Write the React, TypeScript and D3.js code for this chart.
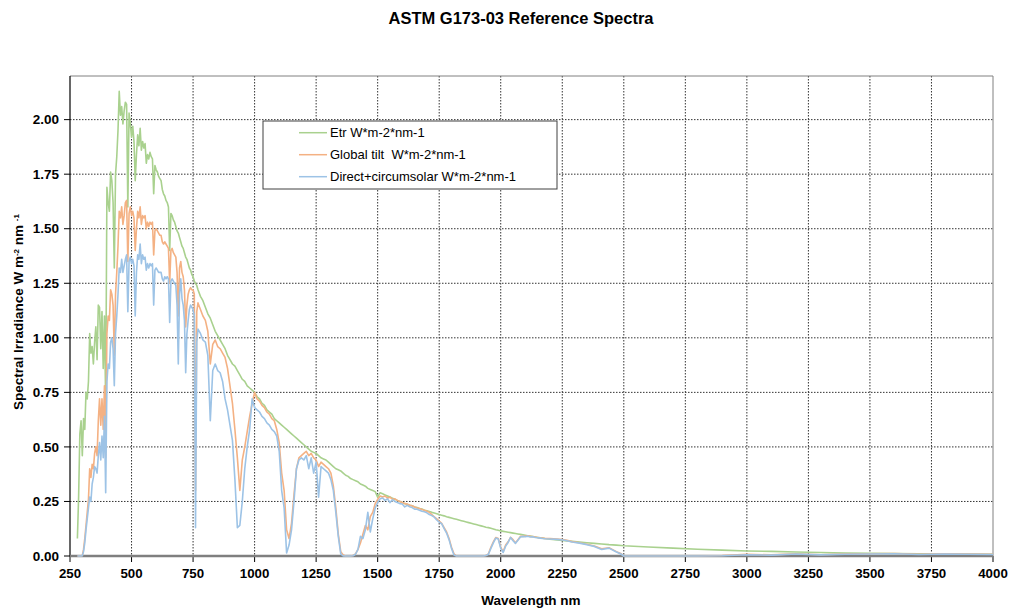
import React from "react";
import * as d3 from "d3";

// Wavelength grid (nm)
const wavelengths = [
  280, 285, 290, 295, 300, 305, 310, 315, 320, 325,
  330, 335, 340, 345, 350, 355, 360, 365, 370, 375,
  380, 385, 390, 395, 400, 405, 410, 415, 420, 425,
  430, 435, 440, 445, 450, 455, 460, 465, 470, 475,
  480, 485, 490, 495, 500, 505, 510, 515, 520, 525,
  530, 535, 540, 545, 550, 555, 560, 565, 570, 575,
  580, 585, 590, 595, 600, 605, 610, 615, 620, 625,
  630, 635, 640, 645, 650, 655, 660, 665, 670, 675,
  680, 685, 690, 695, 700, 705, 710, 715, 720, 725,
  730, 735, 740, 745, 750, 755, 760, 765, 770, 780,
  790, 800, 810, 820, 830, 840, 850, 860, 870, 880,
  890, 900, 910, 920, 930, 940, 950, 960, 970, 980,
  990, 1000, 1010, 1020, 1030, 1040, 1050, 1060, 1070, 1080,
  1090, 1100, 1110, 1120, 1130, 1140, 1150, 1160, 1170, 1180,
  1190, 1200, 1210, 1220, 1230, 1240, 1250, 1260, 1270, 1280,
  1290, 1300, 1310, 1320, 1330, 1340, 1350, 1360, 1370, 1380,
  1390, 1400, 1410, 1420, 1430, 1440, 1450, 1460, 1470, 1480,
  1490, 1500, 1510, 1520, 1530, 1540, 1550, 1560, 1570, 1580,
  1590, 1600, 1610, 1620, 1630, 1640, 1650, 1660, 1670, 1680,
  1690, 1700, 1710, 1720, 1730, 1740, 1750, 1760, 1770, 1780,
  1790, 1800, 1810, 1820, 1830, 1840, 1850, 1860, 1870, 1880,
  1890, 1900, 1910, 1920, 1930, 1940, 1950, 1960, 1970, 1980,
  1990, 2000, 2010, 2020, 2030, 2040, 2050, 2060, 2070, 2080,
  2090, 2100, 2110, 2120, 2130, 2140, 2150, 2160, 2170, 2180,
  2200, 2230, 2260, 2290, 2320, 2350, 2380, 2410, 2440, 2470,
  2490, 2500, 2600, 2700, 2800, 2900, 3000, 3100, 3200, 3300,
  3400, 3500, 3600, 3700, 3800, 3900, 4000,
];

// Extraterrestrial spectrum
const etr = [
  0.08, 0.27, 0.56, 0.62, 0.46, 0.63, 0.58, 0.75, 0.72, 0.80,
  1.02, 0.93, 0.96, 0.88, 0.98, 1.05, 0.90, 1.15, 1.14, 0.95,
  1.12, 0.86, 1.10, 0.70, 1.69, 1.62, 1.58, 1.76, 1.72, 1.62,
  1.32, 1.75, 1.83, 1.95, 2.13, 2.02, 2.06, 1.98, 2.04, 2.08,
  2.07, 1.60, 2.03, 1.98, 1.92, 1.97, 1.90, 1.72, 1.84, 1.93,
  1.88, 1.96, 1.86, 1.90, 1.87, 1.89, 1.80, 1.84, 1.82, 1.85,
  1.83, 1.82, 1.66, 1.79, 1.77, 1.76, 1.74, 1.73, 1.72, 1.68,
  1.66, 1.65, 1.63, 1.62, 1.60, 1.40, 1.57, 1.56, 1.54, 1.53,
  1.51, 1.49, 1.48, 1.46, 1.44, 1.42, 1.41, 1.39, 1.37, 1.36,
  1.34, 1.32, 1.31, 1.29, 1.28, 1.26, 1.25, 1.24, 1.22, 1.19,
  1.17, 1.14, 1.11, 1.09, 1.06, 1.03, 1.01, 0.99, 0.97, 0.95,
  0.92, 0.90, 0.88, 0.87, 0.85, 0.83, 0.81, 0.80, 0.78, 0.77,
  0.76, 0.75, 0.73, 0.72, 0.70, 0.69, 0.67, 0.66, 0.65, 0.63,
  0.62, 0.61, 0.60, 0.59, 0.58, 0.57, 0.56, 0.55, 0.54, 0.53,
  0.52, 0.51, 0.50, 0.49, 0.48, 0.475, 0.47, 0.46, 0.45, 0.445,
  0.44, 0.43, 0.42, 0.41, 0.40, 0.395, 0.39, 0.38, 0.37, 0.365,
  0.355, 0.35, 0.345, 0.34, 0.33, 0.325, 0.32, 0.31, 0.305, 0.30,
  0.295, 0.27, 0.29, 0.285, 0.28, 0.275, 0.27, 0.265, 0.26, 0.255,
  0.25, 0.245, 0.24, 0.237, 0.233, 0.23, 0.225, 0.222, 0.218, 0.215,
  0.21, 0.207, 0.204, 0.20, 0.197, 0.194, 0.19, 0.187, 0.184, 0.18,
  0.177, 0.174, 0.171, 0.168, 0.165, 0.162, 0.159, 0.156, 0.153, 0.15,
  0.147, 0.144, 0.141, 0.138, 0.135, 0.132, 0.13, 0.127, 0.124, 0.12,
  0.118, 0.115, 0.113, 0.111, 0.109, 0.107, 0.105, 0.103, 0.101, 0.099,
  0.097, 0.095, 0.093, 0.091, 0.089, 0.087, 0.085, 0.083, 0.082, 0.08,
  0.077, 0.073, 0.07, 0.067, 0.064, 0.061, 0.058, 0.055, 0.052, 0.05,
  0.048, 0.047, 0.041, 0.036, 0.031, 0.027, 0.023, 0.021, 0.018, 0.016,
  0.014, 0.012, 0.011, 0.01, 0.009, 0.0085, 0.008,
];

// Global tilt spectrum
const globalTilt = [
  0, 0, 0, 0, 0.002, 0.03, 0.08, 0.14, 0.2, 0.26,
  0.40, 0.36, 0.42, 0.40, 0.47, 0.50, 0.46, 0.62, 0.72, 0.60,
  0.72, 0.58, 0.78, 0.45, 1.02, 1.10, 1.08, 1.22, 1.20, 1.15,
  0.92, 1.20, 1.30, 1.42, 1.58, 1.55, 1.60, 1.52, 1.56, 1.62,
  1.63, 1.35, 1.57, 1.60, 1.56, 1.58, 1.55, 1.40, 1.50, 1.58,
  1.55, 1.60, 1.52, 1.56, 1.55, 1.56, 1.50, 1.53, 1.51, 1.53,
  1.52, 1.53, 1.38, 1.49, 1.50, 1.49, 1.48, 1.47, 1.47, 1.44,
  1.43, 1.44, 1.43, 1.42, 1.41, 1.25, 1.40, 1.41, 1.39, 1.38,
  1.37, 1.30, 1.10, 1.32, 1.35, 1.30, 1.28, 1.22, 1.05, 1.15,
  1.20, 1.22, 1.23, 1.22, 1.22, 1.20, 0.30, 1.12, 1.16, 1.13,
  1.10, 1.08, 1.03, 0.88, 0.97, 0.99, 0.96, 0.95, 0.93, 0.91,
  0.86, 0.78, 0.70, 0.58, 0.45, 0.30, 0.44, 0.50, 0.57, 0.64,
  0.70, 0.75, 0.72, 0.71, 0.69, 0.68, 0.66, 0.65, 0.63, 0.62,
  0.58, 0.52, 0.38, 0.30, 0.12, 0.08, 0.15, 0.28, 0.40, 0.45,
  0.46, 0.47, 0.48, 0.46, 0.47, 0.45, 0.44, 0.41, 0.43, 0.42,
  0.41, 0.40, 0.38, 0.32, 0.22, 0.10, 0.02, 0.005, 0, 0,
  0, 0.002, 0.01, 0.03, 0.06, 0.10, 0.14, 0.12, 0.18, 0.20,
  0.24, 0.26, 0.275, 0.27, 0.275, 0.265, 0.27, 0.26, 0.262, 0.255,
  0.25, 0.245, 0.24, 0.238, 0.232, 0.23, 0.225, 0.22, 0.218, 0.213,
  0.21, 0.205, 0.20, 0.19, 0.18, 0.17, 0.16, 0.15, 0.13, 0.11,
  0.08, 0.04, 0.01, 0, 0, 0, 0, 0, 0, 0,
  0, 0, 0, 0, 0, 0.002, 0.01, 0.04, 0.065, 0.085,
  0.08, 0.04, 0.02, 0.05, 0.065, 0.085, 0.075, 0.06, 0.075, 0.09,
  0.09, 0.092, 0.093, 0.09, 0.089, 0.087, 0.085, 0.083, 0.082, 0.08,
  0.08, 0.078, 0.074, 0.066, 0.061, 0.054, 0.046, 0.033, 0.038, 0.02,
  0.01, 0, 0, 0, 0, 0.002, 0.008, 0.005, 0.01, 0.006,
  0.009, 0.01, 0.011, 0.008, 0.01, 0.009, 0.008,
];

// Direct + circumsolar spectrum
const direct = [
  0, 0, 0, 0, 0.001, 0.02, 0.06, 0.12, 0.17, 0.22,
  0.27, 0.25, 0.33, 0.36, 0.41, 0.40, 0.38, 0.46, 0.52, 0.44,
  0.55, 0.45, 0.64, 0.29, 0.80, 0.88, 0.86, 0.98, 1.00, 0.95,
  0.78, 1.02, 1.10, 1.20, 1.32, 1.30, 1.36, 1.30, 1.33, 1.36,
  1.38, 1.12, 1.35, 1.37, 1.34, 1.36, 1.33, 1.10, 1.30, 1.38,
  1.36, 1.43, 1.34, 1.38, 1.36, 1.37, 1.31, 1.34, 1.32, 1.34,
  1.33, 1.34, 1.15, 1.31, 1.32, 1.31, 1.30, 1.30, 1.30, 1.27,
  1.26, 1.28, 1.27, 1.28, 1.27, 1.07, 1.26, 1.27, 1.26, 1.25,
  1.24, 1.15, 0.88, 1.20, 1.27, 1.18, 1.15, 1.08, 0.84, 1.02,
  1.08, 1.13, 1.15, 1.14, 1.13, 1.10, 0.13, 0.98, 1.04, 1.02,
  0.99, 0.98, 0.92, 0.62, 0.85, 0.88, 0.85, 0.84, 0.80, 0.72,
  0.67, 0.60, 0.53, 0.35, 0.13, 0.14, 0.25, 0.40, 0.50, 0.58,
  0.72, 0.68, 0.67, 0.66, 0.64, 0.63, 0.61, 0.60, 0.58, 0.57,
  0.55, 0.48, 0.30, 0.22, 0.014, 0.05, 0.12, 0.25, 0.40, 0.44,
  0.45, 0.44, 0.46, 0.40, 0.45, 0.38, 0.43, 0.27, 0.41, 0.40,
  0.39, 0.38, 0.35, 0.30, 0.20, 0.09, 0.01, 0, 0, 0,
  0, 0.001, 0.008, 0.03, 0.09, 0.08, 0.12, 0.20, 0.11, 0.17,
  0.22, 0.245, 0.262, 0.266, 0.255, 0.262, 0.245, 0.258, 0.25, 0.245,
  0.24, 0.238, 0.225, 0.232, 0.226, 0.222, 0.215, 0.214, 0.21, 0.205,
  0.203, 0.198, 0.19, 0.185, 0.178, 0.165, 0.155, 0.148, 0.125, 0.105,
  0.075, 0.035, 0.005, 0, 0, 0, 0, 0, 0, 0,
  0, 0, 0, 0, 0, 0.002, 0.008, 0.035, 0.06, 0.082,
  0.078, 0.035, 0.016, 0.045, 0.062, 0.085, 0.07, 0.058, 0.072, 0.087,
  0.09, 0.088, 0.091, 0.087, 0.088, 0.085, 0.084, 0.082, 0.08, 0.079,
  0.078, 0.076, 0.072, 0.064, 0.059, 0.052, 0.044, 0.03, 0.036, 0.018,
  0.008, 0, 0, 0, 0, 0.001, 0.006, 0.004, 0.009, 0.005,
  0.008, 0.009, 0.01, 0.007, 0.009, 0.008, 0.007,
];

const xTicks = [250, 500, 750, 1000, 1250, 1500, 1750, 2000, 2250, 2500, 2750, 3000, 3250, 3500, 3750, 4000];
const yTicks = [0, 0.25, 0.5, 0.75, 1.0, 1.25, 1.5, 1.75, 2.0];
const seriesNames = ["Etr W*m-2*nm-1", "Global tilt  W*m-2*nm-1", "Direct+circumsolar W*m-2*nm-1"];
const seriesColors = ["#a9d18e", "#f4b183", "#9dc3e6"];

const W = 1012;
const H = 609;
const left = 70;
const right = 993;
const top = 76;
const bottom = 556;
const FONT = "'Liberation Sans', Arial, Helvetica, sans-serif";

export default function App() {
  const x = d3.scaleLinear().domain([250, 4000]).range([left, right]);
  const y = d3.scaleLinear().domain([0, 2.2]).range([bottom, top]);
  const n = Math.min(wavelengths.length, etr.length, globalTilt.length, direct.length);
  const series = [etr, globalTilt, direct];
  const line = d3
    .line<number>()
    .x((_, i) => x(wavelengths[i]))
    .y((v) => y(v));
  const fmtY = d3.format(".2f");

  return (
    <svg
      width={W}
      height={H}
      style={{ position: "absolute", left: 0, top: 0, background: "#fff" }}
      fontFamily={FONT}
    >
      <rect x={0} y={0} width={W} height={H} fill="#fff" />
      <text x={521} y={24} textAnchor="middle" fontWeight="bold" fontSize={16.5} fill="#000">
        ASTM G173-03 Reference Spectra
      </text>

      {/* grid */}
      {yTicks.filter((t) => t > 0).map((t) => (
        <line key={"gy" + t} x1={left} x2={right} y1={y(t)} y2={y(t)} stroke="#333" strokeWidth={1} strokeDasharray="1.5,1.5" />
      ))}
      {xTicks.filter((t) => t > 250 && t < 4000).map((t) => (
        <line key={"gx" + t} x1={x(t)} x2={x(t)} y1={top} y2={bottom} stroke="#333" strokeWidth={1} strokeDasharray="1.5,1.5" />
      ))}

      {/* plot border */}
      <line x1={left} x2={right} y1={top} y2={top} stroke="#808080" strokeWidth={1} />
      <line x1={right} x2={right} y1={top} y2={bottom} stroke="#808080" strokeWidth={1} />

      {/* ticks */}
      {yTicks.map((t) => (
        <g key={"ty" + t}>
          <line x1={left - 6} x2={left} y1={y(t)} y2={y(t)} stroke="#000" strokeWidth={1} />
          <text x={59} y={y(t)} dy="0.35em" textAnchor="end" fontWeight="bold" fontSize={13.5} fill="#000">
            {fmtY(t)}
          </text>
        </g>
      ))}
      {xTicks.map((t) => (
        <g key={"tx" + t}>
          <line x1={x(t)} x2={x(t)} y1={bottom} y2={bottom + 6} stroke="#000" strokeWidth={1} />
          <text x={x(t)} y={578} textAnchor="middle" fontWeight="bold" fontSize={13.3} fill="#000">
            {t}
          </text>
        </g>
      ))}

      {/* axes */}
      <line x1={left} x2={left} y1={top} y2={bottom} stroke="#000" strokeWidth={1.2} />
      <line x1={left} x2={right} y1={bottom} y2={bottom} stroke="#7f7f7f" strokeWidth={2.5} />

      {/* series */}
      {series.map((s, k) => (
        <path
          key={"s" + k}
          d={line(s.slice(0, n)) || ""}
          fill="none"
          stroke={seriesColors[k]}
          strokeWidth={1.6}
          strokeLinejoin="round"
        />
      ))}

      {/* axis titles */}
      <text x={531} y={605} textAnchor="middle" fontWeight="bold" fontSize={13.5} fill="#000">
        Wavelength nm
      </text>
      <text transform="translate(23,312) rotate(-90)" textAnchor="middle" fontWeight="bold" fontSize={13.5} fill="#000">
        Spectral Irradiance W m
        <tspan baselineShift="super" fontSize={8}>-2</tspan>
        <tspan> nm </tspan>
        <tspan baselineShift="super" fontSize={8}>-1</tspan>
      </text>

      {/* legend */}
      <rect x={263} y={121} width={294} height={68} fill="#fff" stroke="#404040" strokeWidth={1} />
      {seriesNames.map((name, k) => (
        <g key={"l" + k}>
          <line x1={299} x2={327} y1={132.7 + k * 22} y2={132.7 + k * 22} stroke={seriesColors[k]} strokeWidth={1.5} />
          <text x={330} y={132.7 + k * 22} dy="0.35em" fontSize={13} fill="#000" style={{ whiteSpace: "pre" }}>
            {name}
          </text>
        </g>
      ))}
    </svg>
  );
}
